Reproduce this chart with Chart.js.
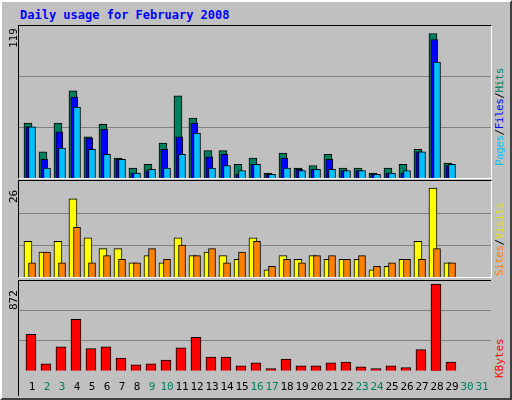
<!DOCTYPE html>
<html>
<head>
<meta charset="utf-8">
<script src="https://cdn.jsdelivr.net/npm/chart.js@4/dist/chart.umd.min.js"></script>
<style>
  body { margin: 0; background: #c0c0c0; }
  #frame { position: absolute; left: 0; top: 0; width: 508px; height: 396px; background: #c0c0c0;
           border: 2px solid; border-color: #ffffff #404040 #404040 #ffffff; }
  .panel { position: absolute; left: 18px; width: 472px; border: 1px solid; border-color: #000 #fff #fff #000; }
  .panel canvas { display: block; }
  .txt { position: absolute; font-family: "DejaVu Sans Mono", monospace; font-size: 11px; white-space: nowrap; }
  .rot { transform-origin: left top; transform: rotate(-90deg); }
</style>
</head>
<body>
<div id="frame"></div>
<div class="txt" style="left:20px;top:8px;color:#0000ff;font-weight:bold;font-size:12px">Daily usage for February 2008</div>
<div class="panel" style="top:25px;height:152px"><canvas id="top" width="472" height="152"></canvas></div>
<div class="panel" style="top:180px;height:96px"><canvas id="mid" width="472" height="96"></canvas></div>
<div class="panel" style="top:280px;height:115px;border-bottom:none;border-right:none"><canvas id="bot" width="472" height="115"></canvas></div>
<div class="txt rot" style="left:7px;top:48px">119</div>
<div class="txt rot" style="left:7px;top:203px">26</div>
<div class="txt rot" style="left:7px;top:310px">872</div>
<div class="txt rot" style="left:493px;top:166px;letter-spacing:-0.5px"><span style="color:#00c0ff">Pages</span>/<span style="color:#0000ff">Files</span>/<span style="color:#008060">Hits</span></div>
<div class="txt rot" style="left:493px;top:276px;letter-spacing:-0.5px"><span style="color:#ff8000">Sites</span>/<span style="color:#e0e000">Visits</span></div>
<div class="txt rot" style="left:493px;top:378px"><span style="color:#ff0000">KBytes</span></div>
<script>
const days = [];
for (let d = 1; d <= 31; d++) days.push(d);
const weekendDays = [2, 3, 9, 10, 16, 17, 23, 24, 30, 31];

const hits   = [44, 21, 44, 70, 33, 43, 16, 8, 11, 28, 66, 48, 22, 22, 11, 16, 4, 20, 8, 10, 19, 8, 8, 4, 8, 11, 23, 116, 12, 0, 0];
const files  = [41, 15, 37, 65, 32, 39, 15, 4, 6, 23, 33, 44, 17, 19, 3, 11, 3, 16, 7, 7, 15, 6, 6, 3, 4, 4, 21, 111, 10, 0, 0];
const pages  = [41, 8, 24, 57, 23, 19, 15, 4, 7, 8, 19, 36, 8, 10, 6, 11, 3, 8, 6, 7, 7, 6, 6, 3, 4, 6, 21, 93, 11, 0, 0];
const visits = [10, 7, 10, 22, 11, 8, 8, 4, 6, 4, 11, 6, 7, 6, 5, 11, 2, 6, 5, 6, 5, 5, 5, 2, 3, 5, 10, 25, 4, 0, 0];
const sites  = [4, 7, 4, 14, 4, 6, 5, 4, 8, 5, 9, 6, 8, 4, 7, 10, 3, 5, 4, 6, 6, 5, 6, 3, 4, 5, 5, 8, 4, 0, 0];
const kbytes = [366, 70, 242, 519, 223, 242, 127, 60, 70, 108, 232, 337, 137, 137, 51, 80, 22, 118, 51, 51, 80, 89, 41, 22, 51, 32, 213, 872, 89, 0, 0];

function series(values, shift, color, width) {
  return {
    data: values.map((v, i) => ({ x: days[i] + shift, y: v })),
    backgroundColor: color,
    borderColor: '#000000',
    borderWidth: 1,
    borderSkipped: 'bottom',
    barThickness: width,
    grouped: false
  };
}

function makeChart(id, datasets, yMax, showX) {
  new Chart(document.getElementById(id), {
    type: 'bar',
    data: { datasets: datasets },
    options: {
      responsive: false,
      animation: false,
      layout: { padding: 0 },
      plugins: { legend: { display: false }, tooltip: { enabled: false } },
      scales: {
        x: {
          type: 'linear', min: 0.133, max: 31.6, offset: false,
          display: showX,
          grid: { display: false },
          border: { display: false },
          afterBuildTicks: axis => { axis.ticks = days.map(d => ({ value: d })); },
          ticks: {
            autoSkip: false, maxRotation: 0, padding: 2,
            font: { family: 'DejaVu Sans Mono', size: 11 },
            color: ctx => weekendDays.includes(ctx.tick.value) ? '#008060' : '#000000'
          }
        },
        y: {
          min: 0, max: yMax, display: true,
          afterBuildTicks: axis => { axis.ticks = [{ value: yMax / 3 }, { value: yMax * 2 / 3 }]; },
          ticks: { display: false },
          grid: { color: '#808080', lineWidth: 1, drawTicks: false },
          border: { display: false }
        }
      }
    }
  });
}

// first dataset is drawn on top, so front bars come first
makeChart('top', [
  series(pages, 0.0, '#00c0ff', 7),
  series(files, -0.18, '#0000ff', 7),
  series(hits, -0.27, '#008060', 8)
], 122, false);

makeChart('mid', [
  series(sites, 0.0, '#ff8000', 7),
  series(visits, -0.27, '#ffff00', 8)
], 27, false);

makeChart('bot', [
  series(kbytes, -0.07, '#ff0000', 10)
], 904, true);
</script>
</body>
</html>
